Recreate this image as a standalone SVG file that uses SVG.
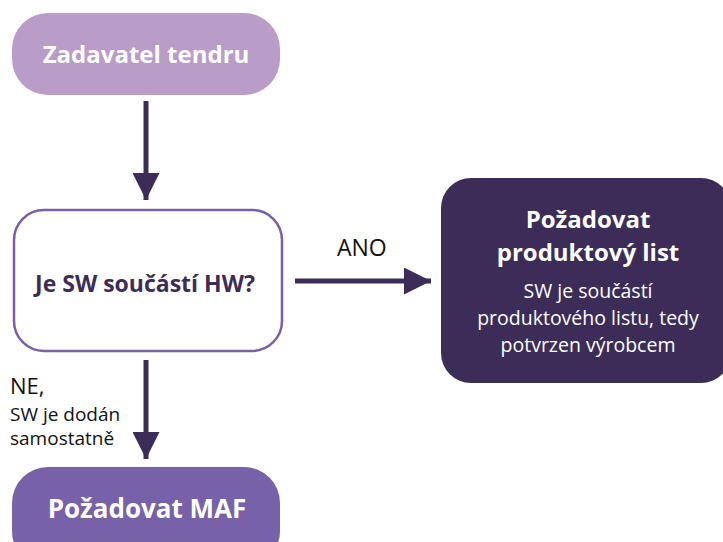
<svg xmlns="http://www.w3.org/2000/svg" width="723" height="542" viewBox="0 0 723 542">
<defs>
<style>
text{font-family:"Open Sans","Noto Sans","DejaVu Sans",sans-serif;}
.b{font-weight:700;}
.conn{stroke:#3B2D57;stroke-width:5;fill:none;}
</style>
<marker id="ah" viewBox="0 0 10 10" refX="10" refY="5" markerWidth="5.4" markerHeight="5.4" markerUnits="strokeWidth" orient="auto"><path d="M0,0 L10,5 L0,10 z" fill="#3B2D57"/></marker>
</defs>
<rect width="723" height="542" fill="#fff"/>
<g id="connectors">
<line class="conn" x1="146" y1="101" x2="146" y2="200" marker-end="url(#ah)"/>
<line class="conn" x1="295" y1="281" x2="431" y2="281" marker-end="url(#ah)"/>
<line class="conn" x1="146" y1="360" x2="146" y2="459" marker-end="url(#ah)"/>
<text x="337" y="256" font-size="23" fill="#111">ANO</text>
<text x="10" y="394" font-size="22" fill="#111">NE,</text>
<text x="10" y="421" font-size="19" fill="#111">SW je dodán</text>
<text x="10" y="445" font-size="19" fill="#111">samostatně</text>
</g>
<g id="zadavatel">
<rect x="12" y="13" width="268" height="82" rx="36" fill="#BA9CC9"/>
<text x="146" y="63" font-size="24" class="b" fill="#fff" text-anchor="middle">Zadavatel tendru</text>
</g>
<g id="otazka">
<rect x="14" y="210" width="268" height="141" rx="30" fill="#fff" stroke="#7B60A8" stroke-width="2.5"/>
<text x="145" y="292" font-size="23" class="b" fill="#3B2D57" text-anchor="middle">Je SW součástí HW?</text>
</g>
<g id="produktovy">
<rect x="441" y="178" width="290" height="205" rx="30" fill="#3B2D57"/>
<text x="588" y="228" font-size="24" class="b" fill="#fff" text-anchor="middle">Požadovat</text>
<text x="588" y="261" font-size="24" class="b" fill="#fff" text-anchor="middle">produktový list</text>
<text x="588" y="298" font-size="19.5" fill="#fff" text-anchor="middle">SW je součástí</text>
<text x="588" y="325" font-size="19.5" fill="#fff" text-anchor="middle">produktového listu, tedy</text>
<text x="588" y="352" font-size="19.5" fill="#fff" text-anchor="middle">potvrzen výrobcem</text>
</g>
<g id="maf">
<rect x="12" y="467" width="268" height="100" rx="36" fill="#7761A8"/>
<text x="147" y="518" font-size="26" class="b" fill="#fff" text-anchor="middle">Požadovat MAF</text>
</g>
</svg>
